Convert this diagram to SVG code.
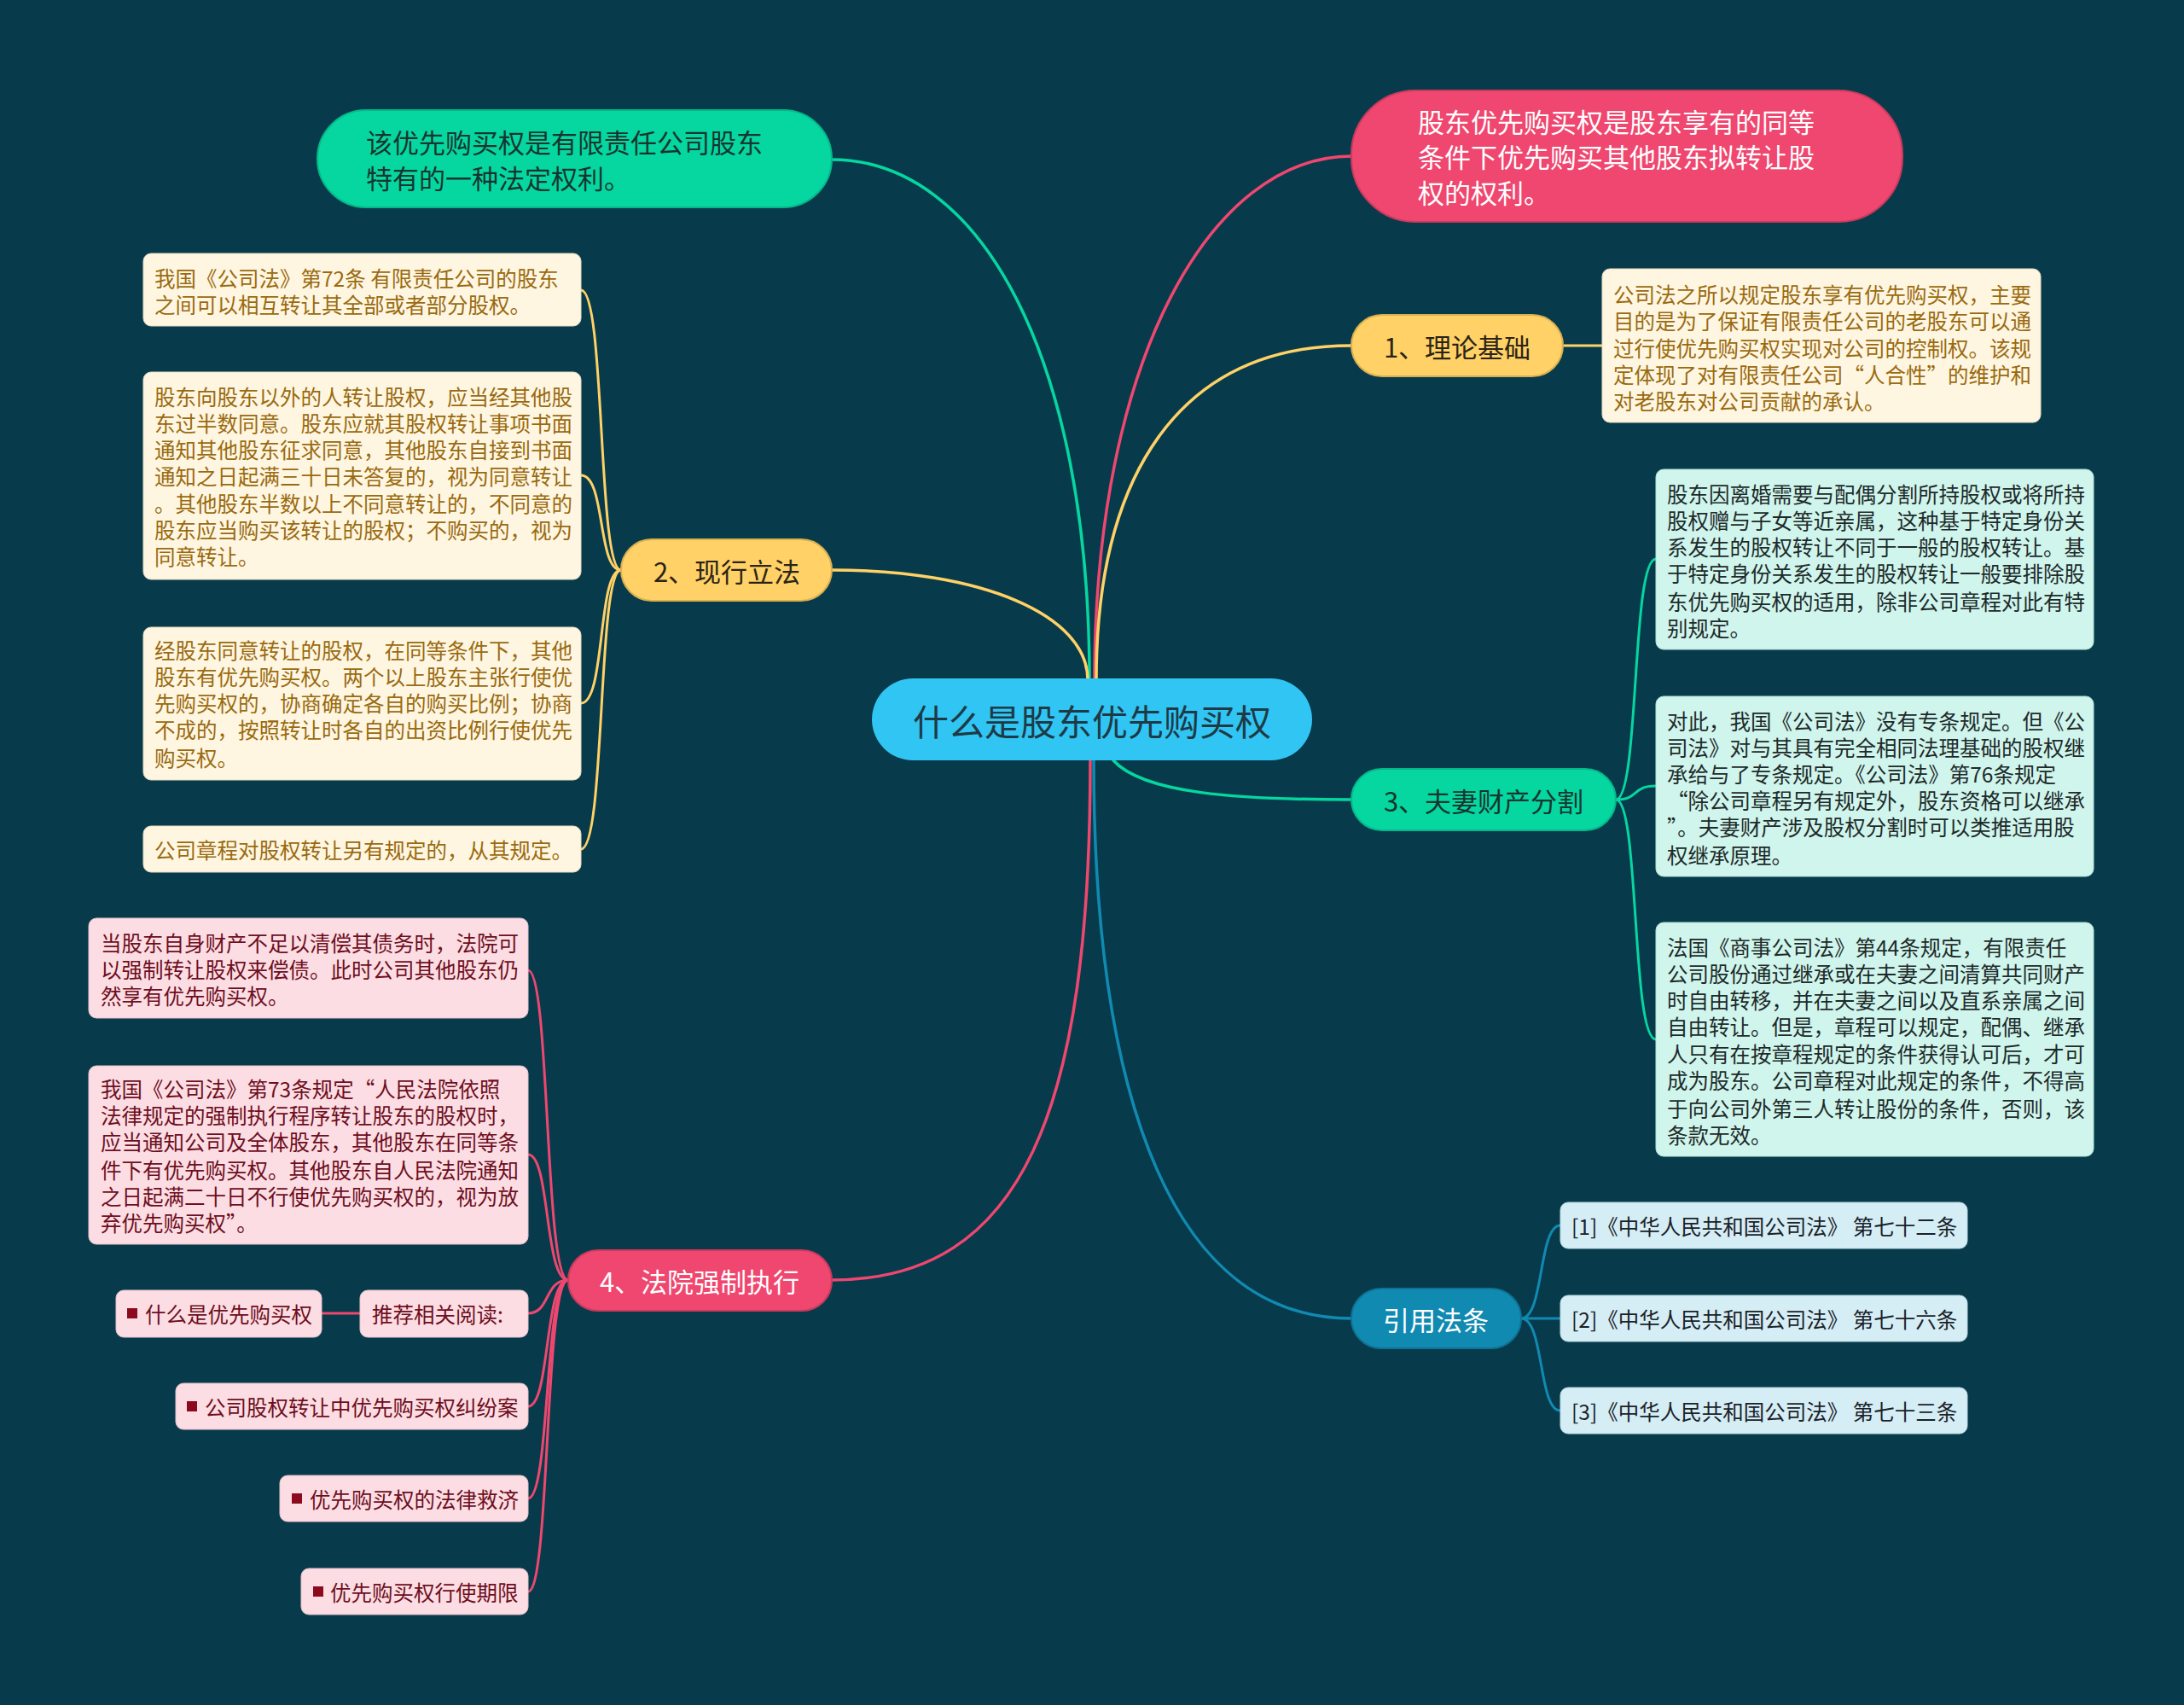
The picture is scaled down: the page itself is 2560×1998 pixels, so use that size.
<svg xmlns="http://www.w3.org/2000/svg" width="2560" height="1998" viewBox="0 0 2560 1998">
<style>
text{font-family:"Noto Sans CJK SC","Noto Sans",sans-serif;dominant-baseline:central}
.c{fill:none;stroke-width:3.5;stroke-linecap:round}
.s{fill:none;stroke-width:3;stroke-linecap:round}
.g{stroke:#06D6A0}.y{stroke:#FFD166}.p{stroke:#EF476F}.b{stroke:#118AB2}
.cream{fill:#FEF6E1;stroke:#E8DCC0;stroke-width:1}
.mint{fill:#CFF5EC;stroke:#B5E3D8;stroke-width:1}
.rose{fill:#FCDDE3;stroke:#E8C2CA;stroke-width:1}
.sky{fill:#D5EDF5;stroke:#BBD8E2;stroke-width:1}
.tc{fill:#9A6A10;font-size:24.5px}
.tm{fill:#1E2A2A;font-size:24.5px}
.tr{fill:#6E0E1E;font-size:24.5px}
.ts{fill:#1A2228;font-size:24.5px}
.bul{fill:#8B0A1E}
</style>
<rect width="2560" height="1998" fill="#073B4C"/>
<g id="connectors">
<path class="c g" d="M1277,797 C1277,420 1150,187 975,187"/>
<path class="c p" d="M1283,797 C1283,420 1420,183 1584,183"/>
<path class="c y" d="M1285,797 C1285,560 1380,405 1584,405"/>
<path class="c y" d="M1275,797 C1275,720 1150,668 975,668"/>
<path class="c g" d="M1305,891 C1340,930 1450,937 1584,937"/>
<path class="c p" d="M1278,891 C1278,1300 1200,1500 975,1500"/>
<path class="c b" d="M1282,891 C1282,1300 1380,1545 1584,1545"/>
<path class="s y" d="M1832,405 L1878,405"/>
<path class="s y" d="M728,668 C700,668 710,340 681,340"/>
<path class="s y" d="M728,668 C700,668 710,557 681,557"/>
<path class="s y" d="M728,668 C700,668 710,824 681,824"/>
<path class="s y" d="M728,668 C700,668 710,995 681,995"/>
<path class="s g" d="M1894,937 C1922,937 1912,655 1941,655"/>
<path class="s g" d="M1894,937 C1922,937 1912,921 1941,921"/>
<path class="s g" d="M1894,937 C1922,937 1912,1218 1941,1218"/>
<path class="s p" d="M666,1500 C638,1500 645,1137 619,1137"/>
<path class="s p" d="M666,1500 C638,1500 645,1353 619,1353"/>
<path class="s p" d="M666,1500 C638,1500 645,1539 619,1539"/>
<path class="s p" d="M666,1500 C638,1500 645,1648 619,1648"/>
<path class="s p" d="M666,1500 C638,1500 645,1756 619,1756"/>
<path class="s p" d="M666,1500 C638,1500 645,1865 619,1865"/>
<path class="s p" d="M421,1539 L377,1539"/>
<path class="s b" d="M1783,1545 C1810,1545 1803,1436 1829,1436"/>
<path class="s b" d="M1783,1545 C1810,1545 1803,1545 1829,1545"/>
<path class="s b" d="M1783,1545 C1810,1545 1803,1653 1829,1653"/>
</g>
<g id="center">
<rect x="1022" y="795" width="516" height="96" rx="48" fill="#30C5F2"/>
<text x="1280" y="843" text-anchor="middle" font-size="42" fill="#1E3A46">什么是股东优先购买权</text>
</g>
<g id="top-left">
<rect x="372" y="129" width="603" height="114" rx="57" fill="#06D6A0" stroke="#05B88A" stroke-width="2"/>
<text x="429" y="165" font-size="31" fill="#16352F">该优先购买权是有限责任公司股东</text>
<text x="429" y="207" font-size="31" fill="#16352F">特有的一种法定权利。</text>
</g>
<g id="top-right">
<rect x="1584" y="106" width="646" height="154" rx="75" fill="#EF476F" stroke="#C93A5C" stroke-width="2"/>
<text x="1662" y="141" font-size="31" fill="#FFFFFF">股东优先购买权是股东享有的同等</text>
<text x="1662" y="182" font-size="31" fill="#FFFFFF">条件下优先购买其他股东拟转让股</text>
<text x="1662" y="224" font-size="31" fill="#FFFFFF">权的权利。</text>
</g>
<g id="n1">
<rect x="1584" y="369" width="248" height="72" rx="36" fill="#FFD166" stroke="#D9AF4F" stroke-width="2"/>
<text x="1708" y="405" text-anchor="middle" font-size="31" fill="#2A2416">1、理论基础</text>
</g>
<g id="n1-detail">
<rect class="cream" x="1878" y="315" width="514" height="180" rx="9"/>
<text class="tc" x="1891" y="344">公司法之所以规定股东享有优先购买权，主要</text>
<text class="tc" x="1891" y="375">目的是为了保证有限责任公司的老股东可以通</text>
<text class="tc" x="1891" y="407">过行使优先购买权实现对公司的控制权。该规</text>
<text class="tc" x="1891" y="438">定体现了对有限责任公司“人合性”的维护和</text>
<text class="tc" x="1891" y="469">对老股东对公司贡献的承认。</text>
</g>
<g id="n2">
<rect x="728" y="632" width="247" height="72" rx="36" fill="#FFD166" stroke="#D9AF4F" stroke-width="2"/>
<text x="852" y="668" text-anchor="middle" font-size="31" fill="#2A2416">2、现行立法</text>
</g>
<g id="n2-a">
<rect class="cream" x="168" y="297" width="513" height="85" rx="9"/>
<text class="tc" x="181" y="325">我国《公司法》第72条 有限责任公司的股东</text>
<text class="tc" x="181" y="356">之间可以相互转让其全部或者部分股权。</text>
</g>
<g id="n2-b">
<rect class="cream" x="168" y="436" width="513" height="243" rx="9"/>
<text class="tc" x="181" y="464">股东向股东以外的人转让股权，应当经其他股</text>
<text class="tc" x="181" y="495">东过半数同意。股东应就其股权转让事项书面</text>
<text class="tc" x="181" y="526">通知其他股东征求同意，其他股东自接到书面</text>
<text class="tc" x="181" y="557">通知之日起满三十日未答复的，视为同意转让</text>
<text class="tc" x="181" y="589">。其他股东半数以上不同意转让的，不同意的</text>
<text class="tc" x="181" y="620">股东应当购买该转让的股权；不购买的，视为</text>
<text class="tc" x="181" y="651">同意转让。</text>
</g>
<g id="n2-c">
<rect class="cream" x="168" y="735" width="513" height="179" rx="9"/>
<text class="tc" x="181" y="761">经股东同意转让的股权，在同等条件下，其他</text>
<text class="tc" x="181" y="792">股东有优先购买权。两个以上股东主张行使优</text>
<text class="tc" x="181" y="823">先购买权的，协商确定各自的购买比例；协商</text>
<text class="tc" x="181" y="854">不成的，按照转让时各自的出资比例行使优先</text>
<text class="tc" x="181" y="887">购买权。</text>
</g>
<g id="n2-d">
<rect class="cream" x="168" y="968" width="513" height="54" rx="9"/>
<text class="tc" x="181" y="995">公司章程对股权转让另有规定的，从其规定。</text>
</g>
<g id="n3">
<rect x="1584" y="901" width="310" height="72" rx="36" fill="#06D6A0" stroke="#05B88A" stroke-width="2"/>
<text x="1739" y="937" text-anchor="middle" font-size="31" fill="#16352F">3、夫妻财产分割</text>
</g>
<g id="n3-a">
<rect class="mint" x="1941" y="550" width="513" height="211" rx="9"/>
<text class="tm" x="1954" y="578">股东因离婚需要与配偶分割所持股权或将所持</text>
<text class="tm" x="1954" y="609">股权赠与子女等近亲属，这种基于特定身份关</text>
<text class="tm" x="1954" y="640">系发生的股权转让不同于一般的股权转让。基</text>
<text class="tm" x="1954" y="671">于特定身份关系发生的股权转让一般要排除股</text>
<text class="tm" x="1954" y="704">东优先购买权的适用，除非公司章程对此有特</text>
<text class="tm" x="1954" y="735">别规定。</text>
</g>
<g id="n3-b">
<rect class="mint" x="1941" y="816" width="513" height="211" rx="9"/>
<text class="tm" x="1954" y="844">对此，我国《公司法》没有专条规定。但《公</text>
<text class="tm" x="1954" y="875">司法》对与其具有完全相同法理基础的股权继</text>
<text class="tm" x="1954" y="906">承给与了专条规定。《公司法》第76条规定</text>
<text class="tm" x="1954" y="937">“除公司章程另有规定外，股东资格可以继承</text>
<text class="tm" x="1954" y="968">”。夫妻财产涉及股权分割时可以类推适用股</text>
<text class="tm" x="1954" y="1001">权继承原理。</text>
</g>
<g id="n3-c">
<rect class="mint" x="1941" y="1081" width="513" height="274" rx="9"/>
<text class="tm" x="1954" y="1109">法国《商事公司法》第44条规定，有限责任</text>
<text class="tm" x="1954" y="1140">公司股份通过继承或在夫妻之间清算共同财产</text>
<text class="tm" x="1954" y="1171">时自由转移，并在夫妻之间以及直系亲属之间</text>
<text class="tm" x="1954" y="1202">自由转让。但是，章程可以规定，配偶、继承</text>
<text class="tm" x="1954" y="1234">人只有在按章程规定的条件获得认可后，才可</text>
<text class="tm" x="1954" y="1265">成为股东。公司章程对此规定的条件，不得高</text>
<text class="tm" x="1954" y="1298">于向公司外第三人转让股份的条件，否则，该</text>
<text class="tm" x="1954" y="1329">条款无效。</text>
</g>
<g id="n4">
<rect x="666" y="1465" width="309" height="71" rx="35" fill="#EF476F" stroke="#C93A5C" stroke-width="2"/>
<text x="820" y="1500" text-anchor="middle" font-size="31" fill="#FFFFFF">4、法院强制执行</text>
</g>
<g id="n4-a">
<rect class="rose" x="104" y="1076" width="515" height="117" rx="9"/>
<text class="tr" x="118" y="1104">当股东自身财产不足以清偿其债务时，法院可</text>
<text class="tr" x="118" y="1135">以强制转让股权来偿债。此时公司其他股东仍</text>
<text class="tr" x="118" y="1166">然享有优先购买权。</text>
</g>
<g id="n4-b">
<rect class="rose" x="104" y="1249" width="515" height="209" rx="9"/>
<text class="tr" x="118" y="1275">我国《公司法》第73条规定“人民法院依照</text>
<text class="tr" x="118" y="1306">法律规定的强制执行程序转让股东的股权时，</text>
<text class="tr" x="118" y="1337">应当通知公司及全体股东，其他股东在同等条</text>
<text class="tr" x="118" y="1370">件下有优先购买权。其他股东自人民法院通知</text>
<text class="tr" x="118" y="1401">之日起满二十日不行使优先购买权的，视为放</text>
<text class="tr" x="118" y="1432">弃优先购买权”。</text>
</g>
<g id="n4-rec">
<rect class="rose" x="422" y="1512" width="197" height="55" rx="9"/>
<text class="tr" x="436" y="1539">推荐相关阅读:</text>
</g>
<g id="n4-rec1">
<rect class="rose" x="136" y="1512" width="241" height="55" rx="9"/>
<rect class="bul" x="149" y="1533" width="12" height="12"/>
<text class="tr" x="170" y="1539">什么是优先购买权</text>
</g>
<g id="n4-rec2">
<rect class="rose" x="206" y="1621" width="413" height="54" rx="9"/>
<rect class="bul" x="219" y="1642" width="12" height="12"/>
<text class="tr" x="240" y="1648">公司股权转让中优先购买权纠纷案</text>
</g>
<g id="n4-rec3">
<rect class="rose" x="328" y="1729" width="291" height="54" rx="9"/>
<rect class="bul" x="342" y="1750" width="12" height="12"/>
<text class="tr" x="363" y="1756">优先购买权的法律救济</text>
</g>
<g id="n4-rec4">
<rect class="rose" x="353" y="1838" width="266" height="54" rx="9"/>
<rect class="bul" x="367" y="1859" width="12" height="12"/>
<text class="tr" x="387" y="1865">优先购买权行使期限</text>
</g>
<g id="refs">
<rect x="1584" y="1510" width="199" height="70" rx="35" fill="#118AB2" stroke="#0E7396" stroke-width="2"/>
<text x="1683" y="1545" text-anchor="middle" font-size="31" fill="#FFFFFF">引用法条</text>
</g>
<g id="ref1">
<rect class="sky" x="1829" y="1409" width="477" height="54" rx="9"/>
<text class="ts" x="1842" y="1436">[1]《中华人民共和国公司法》 第七十二条</text>
</g>
<g id="ref2">
<rect class="sky" x="1829" y="1518" width="477" height="54" rx="9"/>
<text class="ts" x="1842" y="1545">[2]《中华人民共和国公司法》 第七十六条</text>
</g>
<g id="ref3">
<rect class="sky" x="1829" y="1626" width="477" height="54" rx="9"/>
<text class="ts" x="1842" y="1653">[3]《中华人民共和国公司法》 第七十三条</text>
</g>
</svg>
